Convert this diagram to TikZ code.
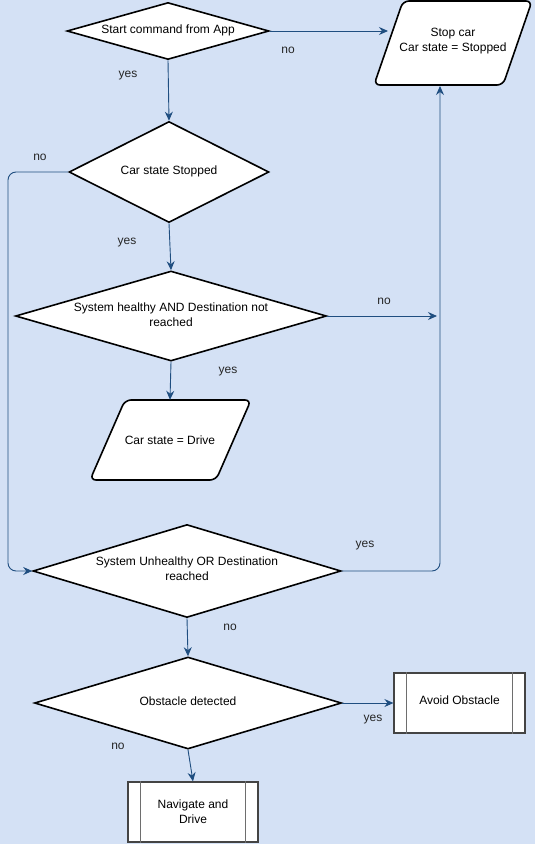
\documentclass[tikz,border=0pt]{standalone}
\usepackage{fontspec}
\setmainfont{Liberation Sans}
\usetikzlibrary{shapes.geometric,arrows.meta}
\pgfdeclarelayer{bg}
\pgfsetlayers{bg,main}
\definecolor{bgc}{HTML}{D4E1F5}
\definecolor{conn}{HTML}{1F4E80}
\definecolor{boxline}{HTML}{444444}
\definecolor{innerline}{HTML}{6E6E6E}
\tikzset{
  txt/.style={font=\fontsize{12}{15}\selectfont, align=center, text=black},
  lbl/.style={font=\fontsize{12}{15}\selectfont, text=black!85},
  decision/.style={diamond, draw=black, line width=1.6pt, fill=white, inner sep=0pt},
  ioholder/.style={inner sep=0pt, txt},
  procbox/.style={rectangle, draw=boxline, line width=1.2pt, fill=white, inner sep=0pt, txt},
  ioshape/.style={draw=black, line width=1.6pt, fill=white, rounded corners=6pt},
  link/.style={draw=conn, line width=0.9pt, -{Stealth[length=9pt,width=8pt,inset=3pt]}, rounded corners=8pt},
  sideline/.style={draw=innerline, line width=1.6pt},
}
\begin{document}
\begin{tikzpicture}[x=1pt,y=-1pt]
\begin{pgfonlayer}{bg}
\fill[bgc] (0,0) rectangle (535,844);
\end{pgfonlayer}
\useasboundingbox (0,0) rectangle (535,844);

% decisions
\node[decision, minimum width=202pt, minimum height=57pt,
      label={[txt,yshift=1pt]center:Start command from App}] (d1) at (168,31) {};
\node[decision, minimum width=200pt, minimum height=101pt,
      label={[txt,yshift=1pt]center:Car state Stopped}] (d2) at (169,172) {};
\node[decision, minimum width=311pt, minimum height=90pt,
      label={[txt,yshift=1pt]center:System healthy AND Destination not\\reached}] (d3) at (171,316) {};
\node[decision, minimum width=308pt, minimum height=93pt,
      label={[txt,yshift=2pt]center:System Unhealthy OR Destination\\reached}] (d4) at (187,571) {};
\node[decision, minimum width=307pt, minimum height=92pt,
      label={[txt,yshift=2pt]center:Obstacle detected}] (d5) at (188,703) {};

% io shapes (parallelograms)
\node[ioholder, minimum width=130pt, minimum height=84pt] (stop) at (453,41) {Stop car\\Car state = Stopped};
\begin{pgfonlayer}{bg}
\path[ioshape] (374,85) -- (403,1) -- (532,1) -- (503,85) -- cycle;
\end{pgfonlayer}
\node[ioholder, minimum width=126pt, minimum height=80pt] (drive) at (170,440) {Car state = Drive};
\begin{pgfonlayer}{bg}
\path[ioshape] (90,480) -- (125,400) -- (251,400) -- (216,480) -- cycle;
\end{pgfonlayer}

% process boxes
\node[procbox, minimum width=131pt, minimum height=60pt,
      label={[txt,yshift=3pt]center:Avoid Obstacle}] (avoid) at (459.5,703) {};
\draw[sideline] ([xshift=13pt]avoid.north west) -- ([xshift=13pt]avoid.south west);
\draw[sideline] ([xshift=-13pt]avoid.north east) -- ([xshift=-13pt]avoid.south east);
\node[procbox, minimum width=130pt, minimum height=60pt] (nav) at (193,812) {Navigate and\\Drive};
\draw[sideline] ([xshift=13pt]nav.north west) -- ([xshift=13pt]nav.south west);
\draw[sideline] ([xshift=-13pt]nav.north east) -- ([xshift=-13pt]nav.south east);

% connectors
\coordinate (stopleft) at (388,31);
\draw[link] (d1.east) -- (stopleft);
\coordinate (stopbot) at (440,86);
\draw[link] (d1.south) -- (d2.north);
\draw[link] (d2.south) -- (d3.north);
\draw[link] (d3.south) -- (drive.north);
\coordinate (vline) at (440,316);
\draw[link] (d3.east) -- ([xshift=-3pt]vline);
\draw[link] (d4.east) -- (440,571) -- (stopbot);
\draw[link] (d2.west) -- (8,172) -- (8,571) -- (d4.west);
\draw[link] (d4.south) -- (d5.north);
\draw[link] (d5.east) -- (avoid.west);
\draw[link] (d5.south) -- (nav.north);

% labels
\node[lbl] (l1) at (288,50) {no};
\node[lbl] (l2) at (128,76) {yes};
\node[lbl] (l3) at (40,157) {no};
\node[lbl] (l4) at (127,243) {yes};
\node[lbl] (l5) at (384,301) {no};
\node[lbl] (l6) at (228,372) {yes};
\node[lbl] (l7) at (365,546) {yes};
\node[lbl] (l8) at (230,627) {no};
\node[lbl] (l9) at (373,720) {yes};
\node[lbl] (l10) at (118,746) {no};
\end{tikzpicture}
\end{document}
